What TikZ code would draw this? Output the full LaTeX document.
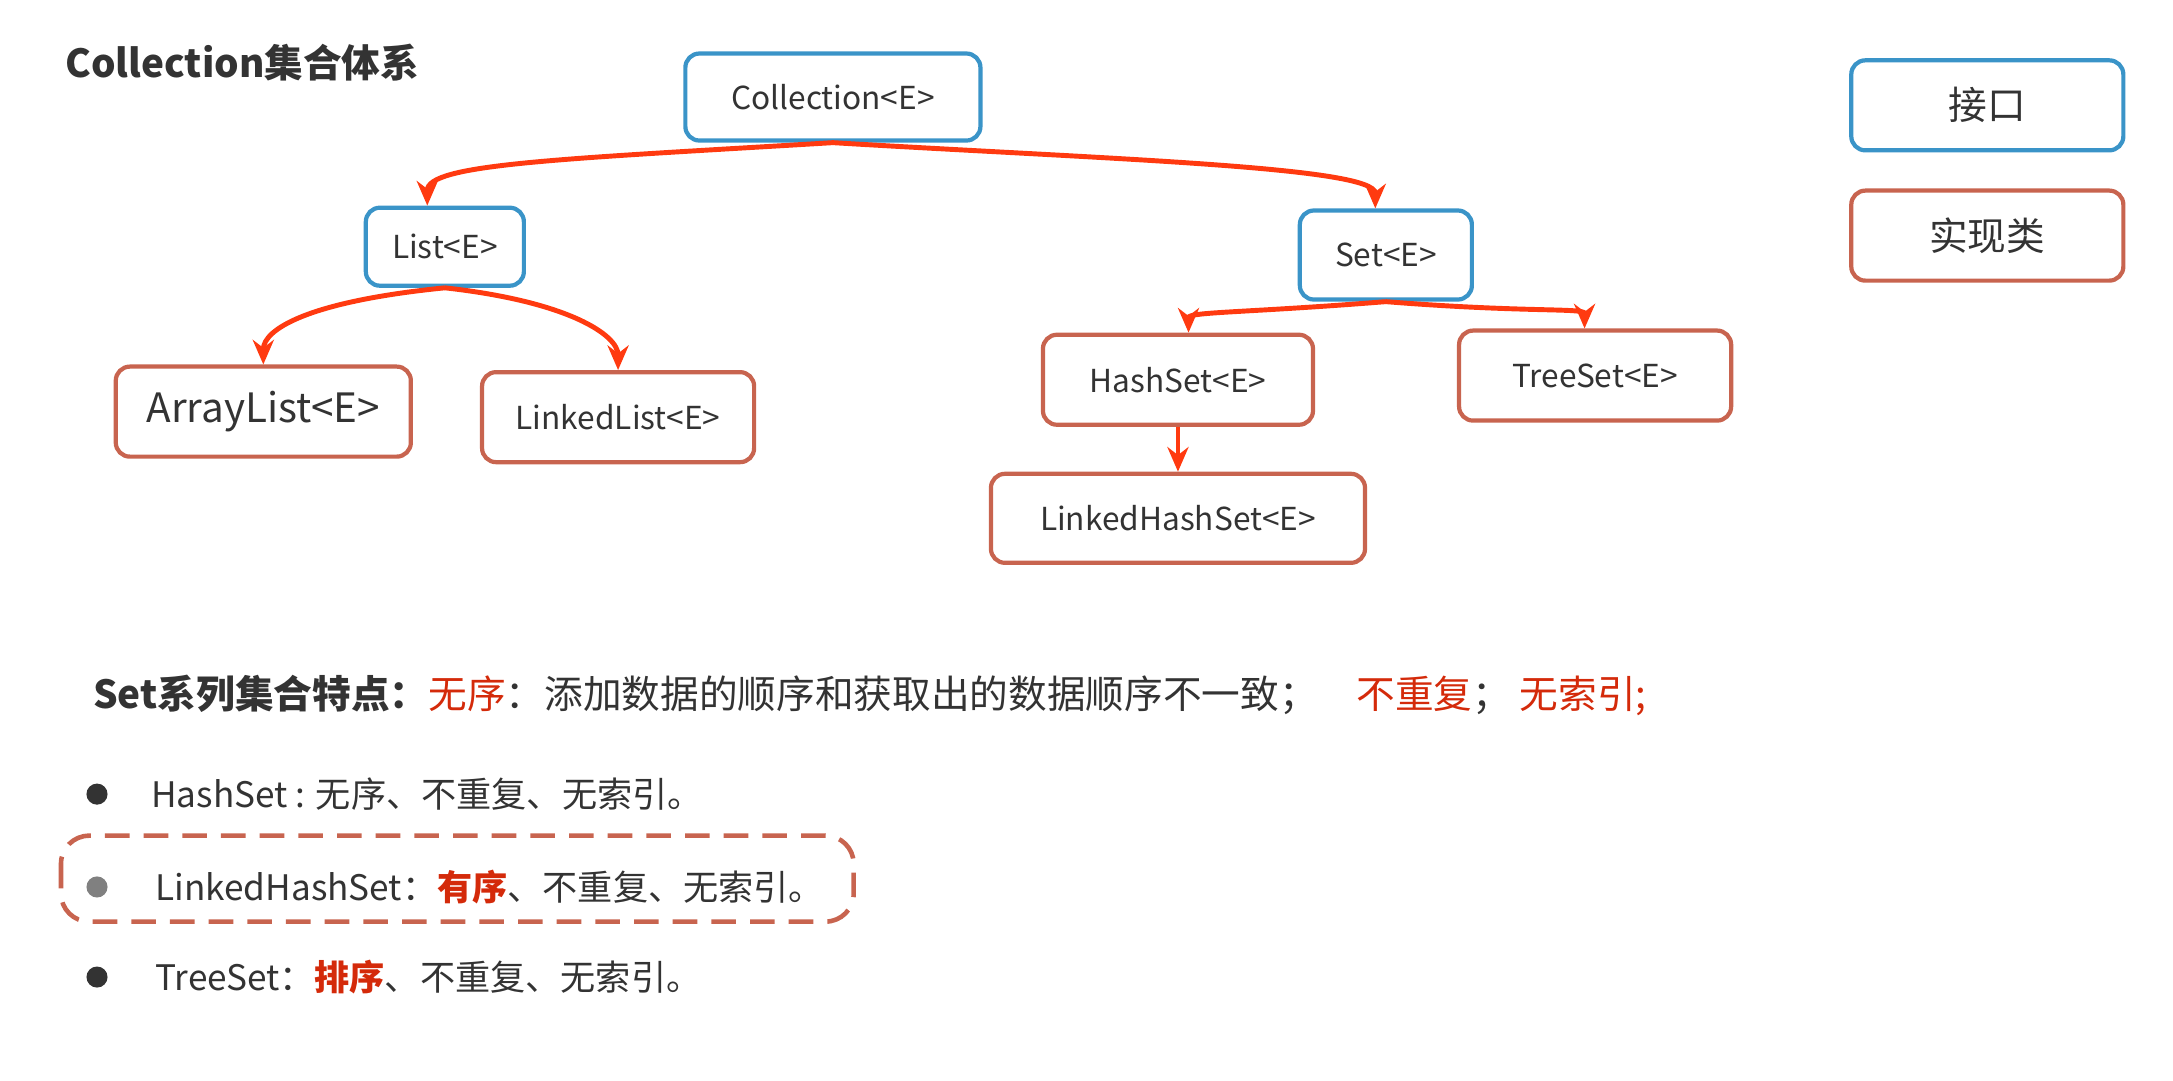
\documentclass[tikz,border=0pt]{standalone}
\usepackage{fontspec}
\setmainfont{Noto Sans CJK SC}
\usetikzlibrary{arrows.meta}
\usetikzlibrary{positioning}
\definecolor{ifblue}{HTML}{3A94C8}
\definecolor{impred}{HTML}{C8644F}
\definecolor{arrred}{HTML}{FF3A10}
\definecolor{hired}{HTML}{D42A0A}
\definecolor{txtgray}{HTML}{333333}
\begin{document}
\begin{tikzpicture}[x=0.01386cm,y=-0.01386cm,
					-{Stealth[length=7pt,width=6pt]},semithick,font=\fontsize{9}{11}\selectfont]
					\tikzstyle{iface}=[draw=ifblue,line width=1.2pt,rounded corners=4pt,text=txtgray,-]
					\tikzstyle{impl}=[draw=impred,line width=1.2pt,rounded corners=4pt,text=txtgray,-]
					\tikzstyle{link}=[draw=arrred,line width=1.4pt]
					\tikzstyle{dot}=[circle,fill=txtgray,inner sep=0pt,minimum size=6pt]
					
					\useasboundingbox (0,0) rectangle (1568,780);
					
					\node[anchor=west,font=\fontsize{11}{13}\selectfont\bfseries,text=txtgray] (Title) at (38,45) {Collection集合体系};
					
					\node[iface,minimum width=2.95cm,minimum height=0.87cm] (Coll)   at (601,70)  {Collection<E>};
					\node[iface,minimum width=1.58cm,minimum height=0.78cm] (List)   at (321,178) {List<E>};
					\node[iface,minimum width=1.72cm,minimum height=0.89cm] (Set)    at (1000,184) {Set<E>};
					\node[impl,minimum width=2.95cm,minimum height=0.9cm,font=\fontsize{11.5}{13}\selectfont] (Array) at (190,297) {ArrayList<E>};
					\node[impl,minimum width=2.72cm,minimum height=0.9cm] (LList)  at (446,301) {LinkedList<E>};
					\node[impl,minimum width=2.7cm,minimum height=0.9cm]  (HSet)   at (850,274) {HashSet<E>};
					\node[impl,minimum width=2.72cm,minimum height=0.9cm] (TSet)   at (1151,271) {TreeSet<E>};
					\node[impl,minimum width=3.74cm,minimum height=0.89cm] (LHSet)  at (850,374) {LinkedHashSet<E>};
					
					\node[iface,minimum width=2.72cm,minimum height=0.9cm,font=\fontsize{11}{13}\selectfont] (KeyIf)  at (1434,76)  {接口};
					\node[impl,minimum width=2.72cm,minimum height=0.9cm,font=\fontsize{11}{13}\selectfont]  (KeyImp) at (1434,170) {实现类};
					
					\draw[link] (Coll.south) .. controls +(-200,12) and +(0,-30) .. ([xshift=-5pt]List.north);
					\draw[link] (Coll.south) .. controls +(200,12) and +(0,-30) .. ([xshift=-3pt]Set.north);
					\draw[link] (List.south) .. controls +(-100,10) and +(0,-25) .. (Array.north);
					\draw[link] (List.south) .. controls +(90,10) and +(0,-25) .. (LList.north);
					\draw[link] (Set.south) .. controls +(-100,8) and +(0,-15) .. ([xshift=3pt]HSet.north);
					\draw[link] (Set.south) .. controls +(100,8) and +(0,-15) .. ([xshift=-3pt]TSet.north);
					\draw[link] (HSet.south) -- (LHSet.north);
					
					\node[anchor=west,font=\fontsize{11}{13}\selectfont,text=txtgray] (Feat) at (58,502)
					{\textbf{Set系列集合特点：}\textcolor{hired}{无序}：添加数据的顺序和获取出的数据顺序不一致；\quad\textcolor{hired}{不重复}；\ \textcolor{hired}{无索引;}};
					
					\node[dot] (B1) at (70,573) {};
					\node[dot,fill=gray] (B2) at (70,640) {};
					\node[dot] (B3) at (70,705) {};
					\node[anchor=west,font=\fontsize{10}{12}\selectfont,text=txtgray] (T1) at (100,573) {HashSet : 无序、不重复、无索引。};
					\node[anchor=west,font=\fontsize{10}{12}\selectfont,text=txtgray] (T2) at (103,640) {LinkedHashSet：\textcolor{hired}{\textbf{有序}}、不重复、无索引。};
					\node[anchor=west,font=\fontsize{10}{12}\selectfont,text=txtgray] (T3) at (103,705) {TreeSet：\textcolor{hired}{\textbf{排序}}、不重复、无索引。};
					
					\draw[impred,line width=1.3pt,dashed,dash pattern=on 7pt off 4pt,rounded corners=8pt,-] (44,603) rectangle (616,665);
\end{tikzpicture}
\end{document}
